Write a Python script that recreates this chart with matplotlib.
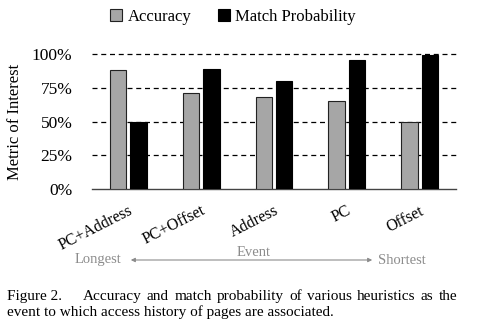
import numpy as np
import matplotlib
matplotlib.use('Agg')
import matplotlib.pyplot as plt
from matplotlib.ticker import FuncFormatter

# data
events = ['PC+Address', 'PC+Offset', 'Address', 'PC', 'Offset']
accuracy = [88, 71, 68, 65, 50]
match_prob = [50, 89, 80, 96, 99.5]
yticks = [0, 25, 50, 75, 100]

plt.rcParams['font.family'] = ['Liberation Serif', 'DejaVu Serif']
W, H = 492, 331
fig = plt.figure(figsize=(W / 100, H / 100), dpi=100)
ax = fig.add_axes([92 / W, 1 - 189 / H, 364 / W, 134.7 / H])

x = np.arange(len(events))
bw = 0.225
off = 0.14
ax.bar(x - off, accuracy, bw, color='#a6a6a6', edgecolor='#222222', linewidth=0.8,
       label='Accuracy', zorder=3)
ax.bar(x + off, match_prob, bw, color='black', edgecolor='black', linewidth=0.8,
       label='Match Probability', zorder=3)

ax.set_xlim(-0.5, len(events) - 0.5)
ax.set_ylim(0, 100)
ax.set_yticks(yticks)
ax.yaxis.set_major_formatter(FuncFormatter(lambda v, p: f'{int(v)}%'))
for t in yticks[1:]:
    ax.axhline(t, color='black', linestyle=(0, (4, 3)), linewidth=0.9, zorder=1, clip_on=False)
for s in ['top', 'right', 'left']:
    ax.spines[s].set_visible(False)
ax.spines['bottom'].set_color('#444444')
ax.spines['bottom'].set_linewidth(1.0)
ax.tick_params(axis='y', length=0, labelsize=12.5, pad=14)
ax.set_xticks(x)
ax.set_xticklabels(events, rotation=27, ha='right', rotation_mode='anchor', fontsize=11.5)
ax.tick_params(axis='x', length=0, pad=10)
fig.text(15 / W, 1 - 122 / H, 'Metric of Interest', fontsize=12, rotation=90,
         ha='center', va='center')

leg = fig.legend(loc='center', bbox_to_anchor=(233 / W, 1 - 17 / H), ncol=2, frameon=False,
                 fontsize=12, handlelength=0.75, handleheight=0.75, handletextpad=0.3,
                 columnspacing=1.6)

# event-length arrow under the axis
gray = '#8c8c8c'
fig.text(75 / W, 1 - 260 / H, 'Longest', color=gray, fontsize=10.5, va='center', ha='left')
fig.text(378 / W, 1 - 260 / H, 'Shortest', color=gray, fontsize=10.5, va='center', ha='left')
fig.text(254 / W, 1 - 253 / H, 'Event', color=gray, fontsize=10.5, va='center', ha='center')
fig.add_artist(matplotlib.patches.FancyArrowPatch(
    (128 / W, 1 - 260 / H), (375 / W, 1 - 260 / H), transform=fig.transFigure,
    arrowstyle='<|-|>', mutation_scale=6, color=gray, linewidth=0.8))

# caption, first line justified word by word
cap_font = dict(family='Liberation Serif', fontsize=11, va='baseline')
fig.text(7 / W, 1 - 300 / H, 'Figure 2.', **cap_font)
words = 'Accuracy and match probability of various heuristics as the'.split()
renderer = fig.canvas.get_renderer()
arts = [fig.text(0, 1 - 300 / H, w_, **cap_font) for w_ in words]
widths = [a.get_window_extent(renderer).width for a in arts]
x0, x1 = 83, 457
gap = (x1 - x0 - sum(widths)) / (len(words) - 1)
pos = x0
for a, w_ in zip(arts, widths):
    a.set_x(pos / W)
    pos += w_ + gap
fig.text(7 / W, 1 - 316 / H, 'event to which access history of pages are associated.', **cap_font)

fig.savefig('out.png', dpi=100)
